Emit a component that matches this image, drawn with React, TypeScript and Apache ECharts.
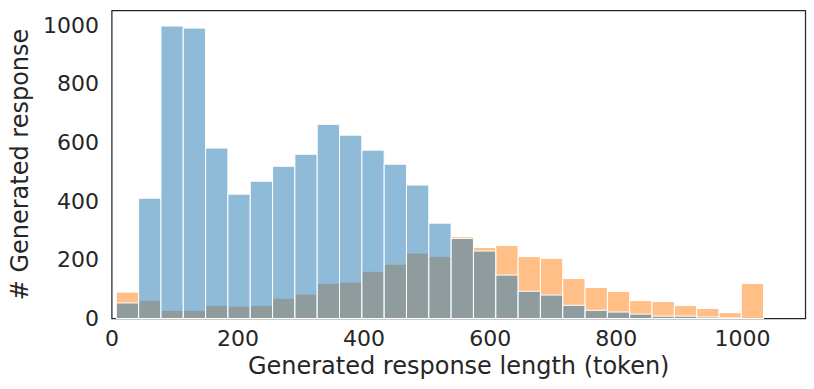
import React, { useEffect, useRef } from "react";
import * as echarts from "echarts";

const binEdges = [
  7.0, 42.4, 77.8, 113.2, 148.6, 184.0, 219.4, 254.8, 290.2, 325.6, 361.0,
  396.4, 431.8, 467.2, 502.6, 538.0, 573.4, 608.8, 644.2, 679.6, 715.0, 750.4,
  785.8, 821.2, 856.6, 892.0, 927.4, 962.8, 998.2, 1033.6,
];
const blueCounts = [
  53, 410, 997, 990, 581, 424, 468, 519, 560, 662, 625, 574, 526, 455, 325,
  273, 230, 148, 93, 80, 45, 28, 22, 15, 8, 8, 5, 2, 0,
];
const orangeCounts = [
  90, 62, 28, 28, 45, 42, 45, 69, 83, 120, 124, 161, 185, 223, 212, 279, 242,
  249, 211, 205, 136, 106, 92, 61, 58, 44, 34, 20, 119,
];
const xTicks = [0, 200, 400, 600, 800, 1000];
const yTicks = [0, 200, 400, 600, 800, 1000];

const xTitle = "Generated response length (token)";
const yTitle = "# Generated response";

export default function App() {
  const ref = useRef<HTMLDivElement>(null);
  useEffect(() => {
    const chart = echarts.init(ref.current!, null, { renderer: "svg" });
    const toData = (counts: number[]) =>
      counts.map((c, i) => [binEdges[i], binEdges[i + 1], c]);
    const renderItem = (color: string) => (params: any, api: any) => {
      const p0 = api.coord([api.value(0), api.value(2)]);
      const p1 = api.coord([api.value(1), 0]);
      return {
        type: "rect",
        shape: { x: p0[0], y: p0[1], width: p1[0] - p0[0], height: p1[1] - p0[1] },
        style: { fill: color, stroke: "#ffffff", lineWidth: 1 },
      };
    };
    const font = "DejaVu Sans";
    const textColor = "#262626";
    chart.setOption({
      animation: false,
      backgroundColor: "#ffffff",
      grid: {
        left: 107.5,
        right: 8.5,
        top: 10.5,
        bottom: 70.5,
        show: true,
        borderColor: "#262626",
        borderWidth: 1.25,
        backgroundColor: "transparent",
      },
      xAxis: {
        type: "value",
        min: 0,
        max: 1100,
        interval: 200,
        axisLine: { show: false },
        axisTick: { show: false },
        splitLine: { show: false },
        axisLabel: {
          fontSize: 22,
          fontFamily: font,
          color: textColor,
          margin: 9,
          formatter: (v: number) => (xTicks.includes(v) ? String(v) : ""),
        },
        name: xTitle,
        nameLocation: "middle",
        nameGap: 35,
        nameTextStyle: { fontSize: 24, fontFamily: font, color: textColor },
      },
      yAxis: {
        type: "value",
        min: 0,
        max: 1050,
        interval: 200,
        axisLine: { show: false },
        axisTick: { show: false },
        splitLine: { show: false },
        axisLabel: {
          fontSize: 22,
          fontFamily: font,
          color: textColor,
          margin: 13,
          formatter: (v: number) => (yTicks.includes(v) ? String(v) : ""),
        },
        name: yTitle,
        nameLocation: "middle",
        nameGap: 76,
        nameTextStyle: { fontSize: 24, fontFamily: font, color: textColor },
      },
      series: [
        {
          type: "custom",
          name: "orange",
          data: toData(orangeCounts),
          renderItem: renderItem("rgba(255,127,14,0.5)"),
        },
        {
          type: "custom",
          name: "blue",
          data: toData(blueCounts),
          renderItem: renderItem("rgba(31,119,180,0.5)"),
        },
      ],
    });
    return () => chart.dispose();
  }, []);
  return (
    <div
      ref={ref}
      style={{ position: "fixed", left: 0, top: 0, width: 814, height: 389 }}
    />
  );
}
